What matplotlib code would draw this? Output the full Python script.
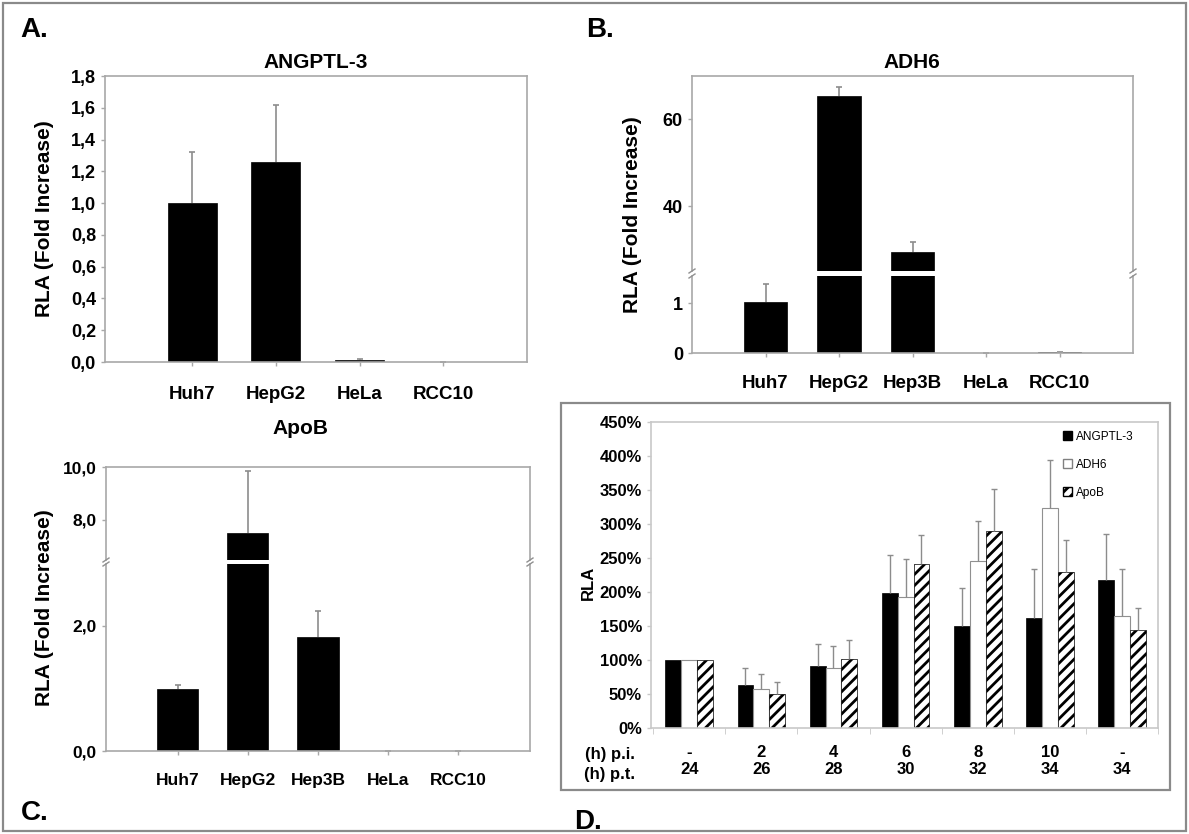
import numpy as np
import matplotlib
matplotlib.use("Agg")
import matplotlib.pyplot as plt
from matplotlib.ticker import FuncFormatter, PercentFormatter
from matplotlib.patches import Rectangle, Patch
from matplotlib.lines import Line2D

W, H = 1189, 834

# A. ANGPTL-3
a_cells = ["Huh7", "HepG2", "HeLa", "RCC10"]
a_rla = [1.0, 1.26, 0.015, 0.0]
a_err = [0.32, 0.36, 0.006, 0.0]

# B. ADH6 (broken axis)
b_cells = ["Huh7", "HepG2", "Hep3B", "HeLa", "RCC10"]
b_rla = [1.02, 65.3, 29.4, 0.0, 0.02]
b_err = [0.36, 2.1, 2.3, 0.0, 0.0]

# C. ApoB (broken axis)
c_cells = ["Huh7", "HepG2", "Hep3B", "HeLa", "RCC10"]
c_rla = [0.99, 7.5, 1.82, 0.0, 0.0]
c_err = [0.06, 2.35, 0.42, 0.0, 0.0]

# D. time course, RLA in %
d_pi = ["-", "2", "4", "6", "8", "10", "-"]
d_pt = ["24", "26", "28", "30", "32", "34", "34"]
d_angptl = [100, 63, 91, 199, 150, 162, 218]
d_angptl_err = [0, 25, 32, 56, 56, 72, 67]
d_adh6 = [100, 57, 88, 193, 246, 323, 165]
d_adh6_err = [0, 23, 33, 56, 59, 71, 69]
d_apob = [100, 50, 101, 241, 289, 230, 144]
d_apob_err = [0, 17, 28, 43, 62, 47, 33]

plt.rcParams["font.family"] = ["Liberation Sans", "DejaVu Sans"]
plt.rcParams["hatch.linewidth"] = 2.0

SPINE = "#a8a8a8"
ERR = "#8c8c8c"


def box(x0, y0, x1, y1):
  return [x0/W, 1-y1/H, (x1-x0)/W, (y1-y0)/H]


def style(ax, col=SPINE):
  for s in ax.spines.values():
    s.set_color(col)
    s.set_linewidth(1.2)
  ax.tick_params(colors=col, length=3, width=1, labelcolor="black")


def comma(v, p):
  return ("%.1f" % v).replace(".", ",")


def upper_err(ax, xs, vals, errs, cap=2.5, lw=1.2):
  # only the upper half of the error bar, no cap at the bar top
  eb = ax.errorbar(xs, vals, yerr=[np.zeros(len(xs)), errs], fmt="none", ecolor=ERR,
                   elinewidth=lw, capsize=cap, capthick=lw)
  eb[1][0].set_visible(False)


def bars(ax, vals, errs, width):
  x = np.arange(len(vals))
  ax.bar(x, vals, width, color="black", edgecolor="black", linewidth=0.5)
  upper_err(ax, x, vals, errs)
  return x


def breakmarks(xs, ys):
  for xx in xs:
    for yy in ys:
      fig.add_artist(Line2D([(xx-3)/W, (xx+3)/W], [1-(yy+2)/H, 1-(yy-2)/H],
                            transform=fig.transFigure, color="#909090", lw=1))


fig = plt.figure(figsize=(W/100, H/100), dpi=100)

# ---- A
ax = fig.add_axes(box(105, 76, 527, 362))
x = bars(ax, a_rla, a_err, 0.585)
ax.set_xlim(-1.04, 4.0)
ax.set_ylim(0, 1.8)
ax.set_yticks(np.arange(0, 1.81, 0.2))
ax.yaxis.set_major_formatter(FuncFormatter(comma))
ax.set_xticks(x)
ax.set_xticklabels(a_cells)
style(ax)
ax.tick_params(axis="x", pad=14)
for t in ax.get_yticklabels():
  t.set_fontsize(13); t.set_fontweight("bold")
for t in ax.get_xticklabels():
  t.set_fontsize(13.5); t.set_fontweight("bold")
fig.text(316/W, 1-63/H, "ANGPTL-3", ha="center", va="center", fontsize=15, fontweight="bold")
fig.text(45/W, 1-219/H, "RLA (Fold Increase)", rotation=90, ha="center", va="center",
         fontsize=15, fontweight="bold")
fig.text(20/W, 1-30/H, "A.", ha="left", va="center", fontsize=20, fontweight="bold")

# ---- B
bl = fig.add_axes(box(692, 276, 1133, 353))
bh = fig.add_axes(box(692, 76, 1133, 271))
for a in (bl, bh):
  x = bars(a, b_rla, b_err, 0.59)
  a.set_xlim(-1, 5)
  style(a)
bl.set_ylim(0, 1.54)
bh.set_ylim(25.06, 69.9)
bl.spines["top"].set_visible(False)
bh.spines["bottom"].set_visible(False)
bl.set_yticks([0, 1])
bh.set_yticks([40, 60])
bh.tick_params(axis="x", bottom=False, labelbottom=False)
bl.set_xticks(x)
bl.set_xticklabels(b_cells)
bl.tick_params(axis="x", pad=13)
for a in (bl, bh):
  for t in a.get_yticklabels():
    t.set_fontsize(13); t.set_fontweight("bold")
for t in bl.get_xticklabels():
  t.set_fontsize(13.5); t.set_fontweight("bold")
breakmarks([692, 1133], [271, 276])
fig.text(912/W, 1-63/H, "ADH6", ha="center", va="center", fontsize=15, fontweight="bold")
fig.text(632/W, 1-215/H, "RLA (Fold Increase)", rotation=90, ha="center", va="center",
         fontsize=15, fontweight="bold")
fig.text(586/W, 1-30/H, "B.", ha="left", va="center", fontsize=20, fontweight="bold")

# ---- C
narrow = ["Liberation Sans Narrow", "Liberation Sans"]
cl = fig.add_axes(box(106, 564, 530, 751))
ch = fig.add_axes(box(106, 467, 530, 560))
for a in (cl, ch):
  x = bars(a, c_rla, c_err, 0.585)
  a.set_xlim(-1.02, 5.02)
  a.yaxis.set_major_formatter(FuncFormatter(comma))
  style(a)
cl.set_ylim(0, 2.99)
ch.set_ylim(6.49, 10.0)
cl.spines["top"].set_visible(False)
ch.spines["bottom"].set_visible(False)
cl.set_yticks([0, 2])
ch.set_yticks([8, 10])
ch.tick_params(axis="x", bottom=False, labelbottom=False)
cl.set_xticks(x)
cl.set_xticklabels(c_cells)
cl.tick_params(axis="x", pad=13)
for a in (cl, ch):
  for t in a.get_yticklabels():
    t.set_fontsize(12.5); t.set_fontweight("bold"); t.set_family(narrow)
for t in cl.get_xticklabels():
  t.set_fontsize(12.5); t.set_fontweight("bold")
breakmarks([106, 530], [560, 564])
fig.text(300/W, 1-428/H, "ApoB", ha="center", va="center", fontsize=15, fontweight="bold")
fig.text(45/W, 1-608/H, "RLA (Fold Increase)", rotation=90, ha="center", va="center",
         fontsize=15, fontweight="bold")
fig.text(21/W, 1-813/H, "C.", ha="left", va="center", fontsize=20, fontweight="bold")

# ---- D
ax = fig.add_axes(box(651, 422, 1158, 728))
x = np.arange(len(d_pt))
w = 0.22
series = [(d_angptl, d_angptl_err, dict(color="black", edgecolor="black", linewidth=0.5)),
          (d_adh6, d_adh6_err, dict(color="white", edgecolor="#909090", linewidth=0.8)),
          (d_apob, d_apob_err, dict(color="white", edgecolor="black", linewidth=0.5, hatch="///"))]
for i, (vals, errs, kw) in enumerate(series):
  xs = x + (i-1)*w
  ax.bar(xs, vals, w, **kw)
  vals = np.array(vals, float)
  errs = np.array(errs, float)
  m = errs > 0
  upper_err(ax, xs[m], vals[m], errs[m], cap=2, lw=1)
ax.set_xlim(-0.53, 6.49)
ax.set_ylim(0, 450)
ax.set_yticks(np.arange(0, 451, 50))
ax.yaxis.set_major_formatter(PercentFormatter(decimals=0))
style(ax, "#c8c8c8")
ax.set_xticks(x)
ax.set_xticklabels([p+"\n"+t for p, t in zip(d_pi, d_pt)], linespacing=1.2)
ax.tick_params(axis="x", length=0, pad=12)
ax.set_xticks(np.arange(-0.5, 7, 1), minor=True)
ax.tick_params(axis="x", which="minor", length=4, color="#c8c8c8")
for t in ax.get_yticklabels():
  t.set_fontsize(12); t.set_fontweight("bold")
for t in ax.get_xticklabels():
  t.set_fontsize(12); t.set_fontweight("bold")
fig.text(610/W, 1-755/H, "(h) p.i.", ha="center", va="center", fontsize=12, fontweight="bold")
fig.text(610/W, 1-775/H, "(h) p.t.", ha="center", va="center", fontsize=12, fontweight="bold")
fig.text(588/W, 1-583/H, "RLA", rotation=90, ha="center", va="center", fontsize=12, fontweight="bold")
handles = [Patch(facecolor="black", edgecolor="black"),
           Patch(facecolor="white", edgecolor="#808080"),
           Patch(facecolor="white", edgecolor="black", hatch="///")]
fig.legend(handles, ["ANGPTL-3", "ADH6", "ApoB"], loc="upper left",
           bbox_to_anchor=(1063/W, 1-431/H), frameon=False, fontsize=8.5,
           handlelength=0.8, handleheight=0.8, handletextpad=0.3, labelspacing=1.35,
           borderpad=0, borderaxespad=0)
fig.add_artist(Rectangle((561/W, 1-790/H), (1170-561)/W, (790-403)/H, transform=fig.transFigure,
                         fill=False, edgecolor="#8a8a8a", lw=1.6))
fig.text(574/W, 1-822/H, "D.", ha="left", va="center", fontsize=20, fontweight="bold")

# outer frame
fig.add_artist(Rectangle((3/W, 3/H), (W-6)/W, (H-6)/H, transform=fig.transFigure,
                         fill=False, edgecolor="#8a8a8a", lw=1.6))

fig.savefig("out.png", dpi=100)
